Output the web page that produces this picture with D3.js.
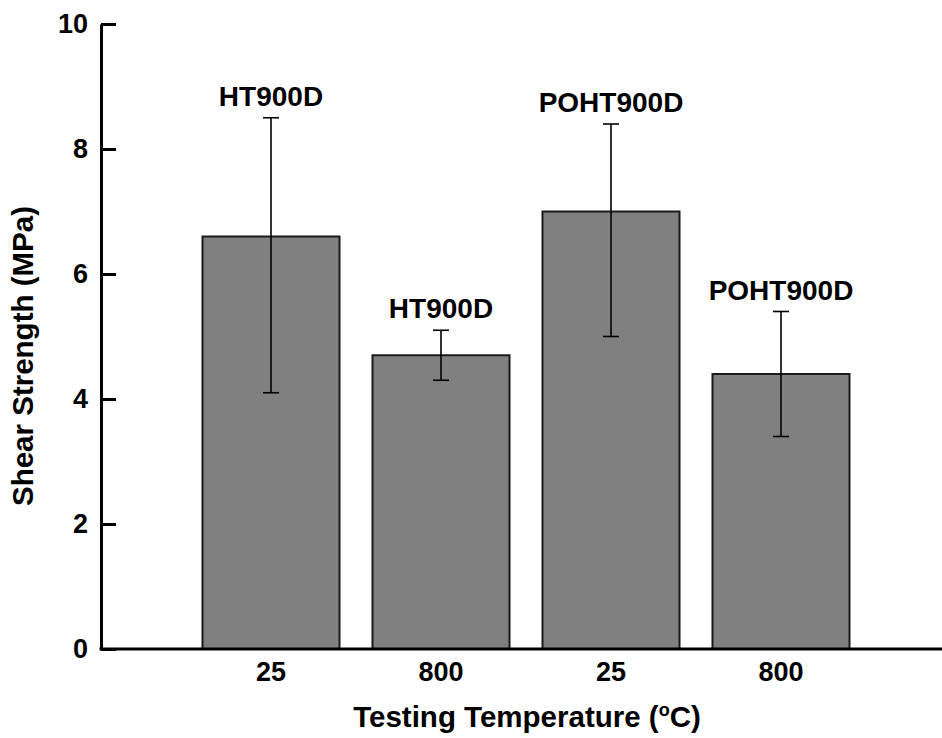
<!DOCTYPE html>
<html>
<head>
<meta charset="utf-8">
<script src="https://cdn.jsdelivr.net/npm/d3@7"></script>
<style>
  body { margin: 0; background: #fff; }
  text { font-family: "Liberation Sans", Arial, sans-serif; font-weight: bold; }
</style>
</head>
<body>
<svg id="chart"></svg>
<script>
// data
const sampleNames = ["HT900D", "HT900D", "POHT900D", "POHT900D"];
const tempLabels = ["25", "800", "25", "800"];
const shearStrength = [6.6, 4.7, 7.0, 4.4];
const errLow = [4.1, 4.3, 5.0, 3.4];
const errHigh = [8.5, 5.1, 8.4, 5.4];
const yTicks = [0, 2, 4, 6, 8, 10];

const width = 942, height = 738;
const axisLeftX = 101;

const svg = d3.select("#chart")
    .attr("width", width)
    .attr("height", height);

const data = shearStrength.map((v, i) => ({
    id: i,
    sample: sampleNames[i],
    temp: tempLabels[i],
    value: v,
    lo: errLow[i],
    hi: errHigh[i]
}));

const xScale = d3.scaleBand()
    .domain(data.map(d => d.id))
    .range([186, 866])
    .paddingInner(0.194)
    .paddingOuter(0.097);

const yScale = d3.scaleLinear()
    .domain([0, 10])
    .range([649, 24]);

// bars
svg.selectAll(".bar")
    .data(data)
    .enter()
    .append("rect")
    .attr("class", "bar")
    .attr("x", d => xScale(d.id))
    .attr("y", d => yScale(d.value))
    .attr("width", xScale.bandwidth())
    .attr("height", d => yScale(0) - yScale(d.value))
    .style("fill", "#808080")
    .style("stroke", "#1a1a1a")
    .style("stroke-width", 2);

// error bars
const cx = d => xScale(d.id) + xScale.bandwidth() / 2;
const capW = 8;
const err = svg.selectAll(".err")
    .data(data)
    .enter()
    .append("g")
    .attr("class", "err")
    .style("stroke", "#000")
    .style("stroke-width", 1.6);

err.append("line")
    .attr("x1", cx).attr("x2", cx)
    .attr("y1", d => yScale(d.lo))
    .attr("y2", d => yScale(d.hi));
err.append("line")
    .attr("x1", d => cx(d) - capW).attr("x2", d => cx(d) + capW)
    .attr("y1", d => yScale(d.hi)).attr("y2", d => yScale(d.hi));
err.append("line")
    .attr("x1", d => cx(d) - capW).attr("x2", d => cx(d) + capW)
    .attr("y1", d => yScale(d.lo)).attr("y2", d => yScale(d.lo));

// sample labels over the error bars
svg.selectAll(".sampleLabel")
    .data(data)
    .enter()
    .append("text")
    .attr("class", "sampleLabel")
    .attr("x", cx)
    .attr("y", d => yScale(d.hi) - 12)
    .attr("text-anchor", "middle")
    .attr("font-size", 28)
    .text(d => d.sample);

// y axis (ticks point inwards)
const yAxis = d3.axisLeft(yScale)
    .tickValues(yTicks)
    .tickSizeInner(-15)
    .tickSizeOuter(0)
    .tickPadding(13)
    .tickFormat(d3.format("d"));

const gy = svg.append("g")
    .attr("transform", `translate(${axisLeftX},0)`)
    .call(yAxis);
gy.select(".domain").attr("stroke-width", 3).attr("stroke", "#000");
gy.selectAll(".tick line").attr("stroke-width", 3).attr("stroke", "#000");
gy.selectAll(".tick text")
    .attr("font-size", 27)
    .attr("font-family", "Liberation Sans, Arial, sans-serif")
    .attr("font-weight", "bold")
    .attr("fill", "#000");

// x axis: labels only, base line drawn across the full width
const xAxis = d3.axisBottom(xScale)
    .tickSize(0)
    .tickPadding(13)
    .tickFormat(i => tempLabels[i]);

const gx = svg.append("g")
    .attr("transform", `translate(0,${yScale(0)})`)
    .call(xAxis);
gx.select(".domain").remove();
gx.selectAll(".tick text")
    .attr("font-size", 27)
    .attr("font-family", "Liberation Sans, Arial, sans-serif")
    .attr("font-weight", "bold")
    .attr("fill", "#000");

svg.append("line")
    .attr("x1", axisLeftX - 1.5)
    .attr("x2", width)
    .attr("y1", yScale(0))
    .attr("y2", yScale(0))
    .style("stroke", "#000")
    .style("stroke-width", 3);

// axis titles
const xTitle = svg.append("text")
    .attr("x", 527)
    .attr("y", 727)
    .attr("text-anchor", "middle")
    .attr("font-size", 29.5)
    .text("Testing Temperature (");
xTitle.append("tspan")
    .attr("font-size", 18)
    .attr("dy", -11)
    .text("o");
xTitle.append("tspan")
    .attr("dy", 11)
    .text("C)");

svg.append("text")
    .attr("transform", "translate(33,356) rotate(-90)")
    .attr("text-anchor", "middle")
    .attr("font-size", 29.5)
    .text("Shear Strength (MPa)");
</script>
</body>
</html>
